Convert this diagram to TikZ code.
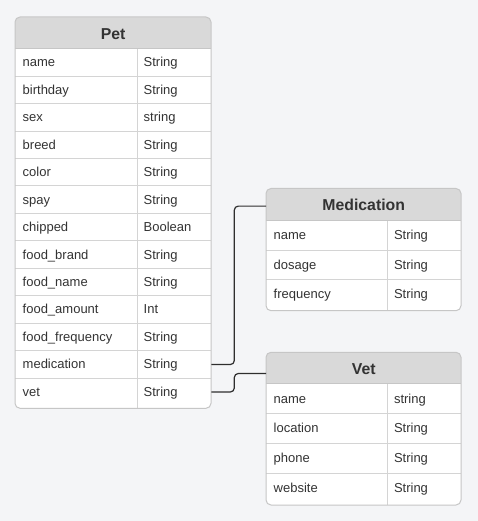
\documentclass[tikz,border=0pt]{standalone}
\usepackage{fontspec}
\setmainfont{Liberation Sans}
\definecolor{bg}{HTML}{F4F5F7}
\definecolor{hdr}{HTML}{D9D9D9}
\definecolor{gridc}{HTML}{D4D4D4}
\definecolor{outerc}{HTML}{C6C6C6}
\definecolor{txt}{HTML}{333333}
\definecolor{connc}{HTML}{2E2E2E}
\tikzset{
  celltext/.style={inner sep=0pt, text=txt, font=\fontsize{13}{15}\selectfont, anchor=base west},
  headtext/.style={inner sep=0pt, text=txt, font=\bfseries\fontsize{15.8}{18}\selectfont, anchor=base},
  gridline/.style={draw=gridc, line width=1pt},
  outerline/.style={draw=outerc, line width=1pt, rounded corners=5pt},
  conn/.style={draw=connc, line width=1.2pt, rounded corners=4pt},
}
% table macro: uses \tL \tR \tT \tH \tD \tRH \tB
\newcommand\ertable[3]{%
  \begin{scope}
    \clip[rounded corners=5pt] (\tL,\tT) rectangle (\tR,\tB);
    \fill[white] (\tL,\tT) rectangle (\tR,\tB);
    \fill[hdr] (\tL,\tT) rectangle (\tR,\tH);
  \end{scope}
  \node[inner sep=0pt, anchor=north west, minimum width={(\tR-\tL)*1pt}, minimum height={(\tH-\tT)*1pt}] (#1-head) at (\tL,\tT) {};
  \node[headtext] at ([yshift=-6pt]#1-head.center) {#2};
  \foreach \n/\t [count=\i from 0] in {#3} {
    \node[inner sep=0pt, anchor=north west, minimum width={(\tR-\tL)*1pt}, minimum height={\tRH*1pt}] (#1-\i) at (\tL,{\tH+\i*\tRH}) {};
    \node[celltext] at ({\tL+7.5},{\tH+(\i+0.5)*\tRH+4.5}) {\n};
    \node[celltext] at ({\tD+6.5},{\tH+(\i+0.5)*\tRH+4.5}) {\t};
    \ifnum\i>0
      \draw[gridline] (\tL,{\tH+\i*\tRH}) -- (\tR,{\tH+\i*\tRH});
    \fi
  }
  \draw[draw=outerc, line width=1pt] (\tL,\tH) -- (\tR,\tH);
  \draw[gridline] (\tD,\tH) -- (\tD,\tB);
  \draw[outerline] (\tL,\tT) rectangle (\tR,\tB);
}
\begin{document}
\begin{tikzpicture}[x=1pt,y=-1pt]
  \fill[bg] (0,0) rectangle (478,521);
  \useasboundingbox (0,0) rectangle (478,521);
  % Pet
  \def\tL{15}\def\tR{211}\def\tT{17}\def\tH{48.7}\def\tD{137}\def\tRH{27.45}\def\tB{408.3}
  \ertable{pet}{Pet}{name/String,birthday/String,sex/string,breed/String,color/String,spay/String,chipped/Boolean,food\_brand/String,food\_name/String,food\_amount/Int,food\_frequency/String,medication/String,vet/String}
  % Medication
  \def\tL{266}\def\tR{461}\def\tT{188.5}\def\tH{220.7}\def\tD{387.3}\def\tRH{29.5}\def\tB{310.7}
  \ertable{med}{Medication}{name/String,dosage/String,frequency/String}
  % Vet
  \def\tL{266}\def\tR{461}\def\tT{352.3}\def\tH{383.7}\def\tD{387.3}\def\tRH{29.8}\def\tB{505}
  \ertable{vet}{Vet}{name/string,location/String,phone/String,website/String}
  % connectors
  \coordinate (mx) at (234.3,0);
  \coordinate (medin) at ([yshift=-1.3pt]med-head.west);
  \coordinate (vetin) at ([yshift=-5.3pt]vet-head.west);
  \draw[conn] (pet-11.east) -| (mx |- medin) -- (medin);
  \draw[conn] (pet-12.east) -| (mx |- vetin) -- (vetin);
\end{tikzpicture}
\end{document}
